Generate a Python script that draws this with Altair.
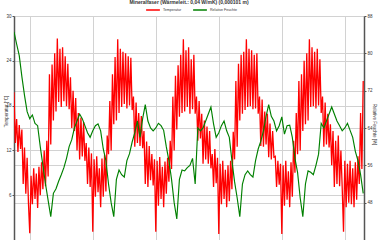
import altair as alt
import pandas as pd

# Temperature [°C], half-hourly readings (hour 0 .. 133)
temp_c = [
    19.8, 13.0, 16.2, 11.8, 15.4, 12.2, 14.8, 7.5, 12.4, 6.2, 11.0, 5.0,
    0.9,
    8.6, 4.8, 9.6, 5.5, 8.9, 4.3, 9.8, 6.0, 10.4, 6.8,
    12.0, 7.2, 13.3, 8.5, 22.2, 12.8, 23.5, 16.0, 25.0, 17.2,
    27.0, 18.5, 25.6, 17.8, 25.8, 18.6, 24.6, 17.9, 23.6, 17.5,
    21.8, 15.0, 20.0, 14.6, 19.0, 12.0, 17.0, 10.8, 16.4, 11.2,
    15.8, 10.6, 13.0, 7.5, 12.4, 7.1, 11.6,
    1.1,
    10.8, 5.8, 11.2, 6.4, 9.6, 4.4, 10.9, 5.8, 11.4, 6.5,
    14.0, 11.5, 18.6, 12.0, 22.2, 15.5, 24.5, 16.0, 26.9, 17.0,
    25.6, 17.8, 25.2, 18.2, 25.0, 17.6, 24.6, 18.0, 24.4, 17.4,
    19.2, 12.5, 18.4, 13.0, 17.0, 12.6, 16.6, 12.3, 14.6, 7.5,
    13.2, 7.1, 12.6, 8.0, 11.5, 7.3, 10.8,
    1.1,
    10.6, 4.6, 11.1, 5.5, 9.8, 4.4, 10.5, 6.2, 11.0, 7.8,
    13.3, 9.5, 19.2, 12.0, 22.0, 14.8, 23.4, 16.5, 24.8, 17.0,
    26.9, 17.2, 25.4, 17.8, 25.8, 16.9, 24.2, 17.5, 24.8, 16.9,
    19.2, 13.3, 18.6, 13.6, 16.9, 10.2, 16.0, 10.8, 15.2, 10.2,
    14.6, 9.6, 11.5, 7.1, 12.2, 7.6, 11.0,
    0.8,
    10.2, 4.8, 10.6, 5.5, 9.4, 4.4, 10.0, 5.2, 10.6, 6.8,
    14.5, 10.8, 21.3, 12.5, 23.6, 16.0, 24.8, 16.9, 25.2, 17.4,
    26.9, 17.8, 25.6, 17.9, 25.4, 17.5, 24.8, 17.6, 25.0, 16.9,
    19.2, 12.6, 18.8, 12.5, 17.2, 12.8, 16.9, 11.1, 15.6, 10.8,
    14.6, 11.1, 11.2, 7.1, 10.6, 7.4, 10.2,
    0.8,
    10.0, 4.6, 10.6, 5.4, 9.2, 4.4, 10.4, 5.8, 13.3, 9.0,
    17.0, 11.5, 21.3, 12.0, 22.2, 14.6, 24.0, 15.5, 25.0, 16.0,
    26.9, 17.8, 25.8, 17.9, 25.2, 17.6, 25.6, 18.0, 24.2, 17.0,
    19.2, 12.5, 18.4, 12.8, 16.9, 12.4, 15.5, 10.0, 14.6, 7.1,
    13.3, 7.5, 14.0, 7.2, 12.0, 7.0,
    1.1,
    10.6, 4.4, 10.2, 5.0, 10.6, 4.8, 9.6, 4.4, 10.4, 5.4, 11.2, 7.5, 17.0, 9.5, 21.3,
]

# Relative humidity [%], hourly readings (hour 0 .. 133)
rh_pct = [
    84.6, 82, 79.5, 75, 71, 67.5, 66, 66.8, 65, 64.5,
    60, 56, 52, 48.5, 45, 50, 51, 52.6, 54, 55.5,
    57.5, 60, 61.5, 64, 65.5, 67, 66, 64.5, 63, 62,
    63.4, 64.5, 64.9, 63.4, 59.5, 57, 52, 48, 45, 53,
    55, 54, 53.5, 57, 58.5, 61, 63, 65.5, 62, 66,
    69, 65.5, 64, 63.4, 64, 65, 64.5, 63.5, 60, 57,
    53, 48, 44.5, 53, 55, 54.8, 55.5, 56, 57.5, 52,
    64, 63.4, 64, 65.5, 67, 68.5, 64.9, 62, 63, 64.5,
    65.5, 63.4, 62, 57, 52.5, 49, 45, 52, 54, 54.8,
    54, 53.5, 57, 59.5, 61.2, 63.4, 66.5, 69, 66.5, 65.5,
    63.4, 64.5, 66.4, 62.7, 64.5, 64.6, 62, 57.5, 54.5, 49,
    45, 52, 54.8, 54.5, 54, 56, 58.4, 65, 64, 65.5,
    67, 68.5, 67, 65.5, 64.5, 63.4, 64, 65, 63.5, 62,
    59, 57, 54, 50,
]

grid_hours = [6, 30, 54, 78, 102, 126]
temp_ticks = [6, 12, 18, 24, 30]
rh_ticks = [48, 56, 64, 72, 80, 88]
series_names = ["Temperatur", "Relative Feuchte"]
series_colors = ["#ff0000", "#008000"]
chart_title = "Mineralfaser (Wärmeleit.: 0,04 W/mK) (0,000101 m)"

temp_df = pd.DataFrame({
    "h": [i * 0.5 for i in range(len(temp_c))],
    "v": temp_c,
    "s": series_names[0],
})
rh_df = pd.DataFrame({
    "h": list(range(len(rh_pct))),
    "v": rh_pct,
    "s": series_names[1],
})

FONT = "Liberation Sans"
GRID = "#d2d2d2"

x_enc = alt.X(
    "h:Q",
    scale=alt.Scale(domain=[0, 133.3], nice=False, zero=False),
    axis=alt.Axis(values=grid_hours, labels=False, ticks=False, domain=False,
                  grid=True, gridColor=GRID, gridWidth=1, title=None),
)

color_enc = alt.Color(
    "s:N",
    scale=alt.Scale(domain=series_names, range=series_colors),
    legend=alt.Legend(
        orient="none", legendX=131, legendY=-14, direction="horizontal",
        title=None, symbolType="stroke", symbolSize=190, symbolStrokeWidth=1.5,
        labelFontSize=3.6, labelFont=FONT, labelColor="#333", labelOffset=2,
        columnPadding=8, padding=0, offset=0,
    ),
)

temp_line = alt.Chart(temp_df).mark_line(strokeWidth=1.3, clip=True).encode(
    x=x_enc,
    y=alt.Y(
        "v:Q",
        scale=alt.Scale(domain=[0, 30], nice=False, zero=False),
        axis=alt.Axis(
            orient="left", values=temp_ticks, title="Temperatur [°C]",
            grid=True, gridColor=GRID, domainColor="#555", domainWidth=1.5,
            tickColor="#555", tickSize=2, labelFontSize=4.5, labelFont=FONT,
            labelColor="#333", labelPadding=1, titleFontSize=4.5, titleFont=FONT,
            titleFontWeight="normal", titleColor="#333", titleAngle=-90,
            titleX=-8, titleY=95, titleAlign="center", titleBaseline="middle",
        ),
    ),
    color=color_enc,
)

rh_line = alt.Chart(rh_df).mark_line(strokeWidth=1.15, clip=True).encode(
    x=x_enc,
    y=alt.Y(
        "v:Q",
        scale=alt.Scale(domain=[40, 88], nice=False, zero=False),
        axis=alt.Axis(
            orient="right", values=rh_ticks, title="Relative Feuchte [%]",
            grid=True, gridColor=GRID, domainColor="#555", domainWidth=1.5,
            tickColor="#555", tickSize=2, labelFontSize=4.5, labelFont=FONT,
            labelColor="#333", labelPadding=1, titleFontSize=4.5, titleFont=FONT,
            titleFontWeight="normal", titleColor="#333", titleAngle=90,
            titleX=9, titleY=108, titleAlign="center", titleBaseline="middle",
        ),
    ),
    color=color_enc,
)

chart = (
    alt.layer(temp_line, rh_line)
    .resolve_scale(y="independent")
    .properties(
        width=350,
        height=224,
        title=alt.TitleParams(chart_title, fontSize=5, font=FONT, fontWeight="bold",
                              color="#333", anchor="middle", offset=0,
                              baseline="bottom", dy=8),
        autosize=alt.AutoSizeParams(type="none"),
        padding={"left": 14, "top": 16, "right": 16, "bottom": 0},
    )
    .configure_view(stroke=None)
    .configure(background="white")
)

chart.save("out.html", embed_options={"renderer": "svg", "actions": False})
